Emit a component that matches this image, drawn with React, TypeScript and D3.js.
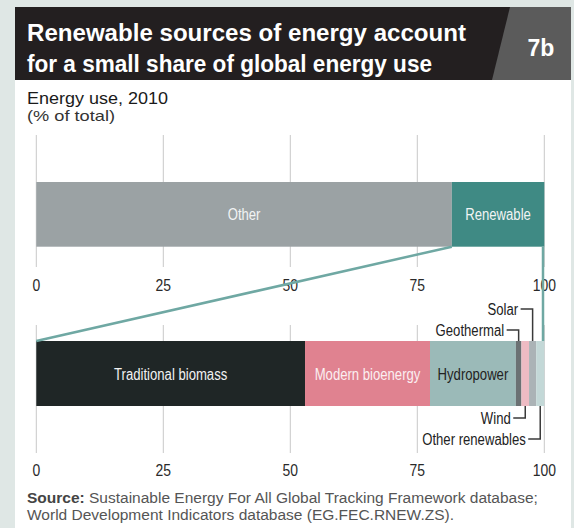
import * as React from 'react';
import { scaleLinear, cumsum } from 'd3';

// Energy use, 2010 (% of total)
const totalCategories = ['Other', 'Renewable'];
const totalValues = [81.8, 18.2];

// Breakdown of the renewable share (% of renewable)
const renewCategories = [
  'Traditional biomass',
  'Modern bioenergy',
  'Hydropower',
  'Geothermal',
  'Wind',
  'Solar',
  'Other renewables',
];
const renewValues = [52.9, 24.6, 16.9, 1.1, 1.5, 1.4, 1.6];

const tickValues = [0, 25, 50, 75, 100];

const totalColors = ['#9ba2a4', '#3f8a84'];
const renewColors = ['#1f2626', '#e08290', '#9bbab8', '#6b7173', '#eebbc3', '#abb3b6', '#c3d8d7'];
const renewTextColors = ['#f2f2f2', '#fbeff1', '#222222', '', '', '', ''];

const W = 574;
const H = 528;
const SANS = '"Liberation Sans", Arial, sans-serif';

// callouts for the thin slices: above or below the bar, and the row they sit on
const callouts: Record<string, { side: 'top' | 'bottom'; y: number }> = {
  Solar: { side: 'top', y: 309 },
  Geothermal: { side: 'top', y: 330 },
  Wind: { side: 'bottom', y: 418 },
  'Other renewables': { side: 'bottom', y: 439 },
};

function stack(values: number[]) {
  const ends = Array.from(cumsum(values));
  return values.map((v, i) => ({ x0: ends[i] - v, x1: ends[i] }));
}

// no narrow face is installed, so squeeze Liberation Sans horizontally
function Narrow({ x, y, anchor = 'start', size = 16, fill, children }: {
  x: number; y: number; anchor?: string; size?: number; fill: string; children: React.ReactNode;
}) {
  return (
    <text
      transform={`translate(${x},${y}) scale(0.82,1)`}
      textAnchor={anchor}
      fontFamily={SANS}
      fontSize={size}
      fill={fill}
    >
      {children}
    </text>
  );
}

export default function App() {
  const x = scaleLinear().domain([0, 100]).range([36.3, 544.3]);

  const top = { y0: 182, y1: 246.7, grid0: 135, grid1: 267, tickY: 291 };
  const bot = { y0: 341, y1: 406, grid0: 325, grid1: 453, tickY: 476 };

  const totalStack = stack(totalValues);
  const renewStack = stack(renewValues);
  const renewStart = totalStack[1].x0;

  const axis = (g: typeof top, key: string) => (
    <g key={key}>
      {tickValues.map(t => (
        <line key={'g' + t} x1={x(t)} x2={x(t)} y1={g.grid0} y2={g.grid1} stroke="#c9c9c9" strokeWidth={1} />
      ))}
      {tickValues.map(t => (
        <Narrow key={'t' + t} x={x(t)} y={g.tickY} anchor="middle" size={17} fill="#2a2a2a">
          {t}
        </Narrow>
      ))}
    </g>
  );

  return (
    <svg width={W} height={H} viewBox={`0 0 ${W} ${H}`} style={{ position: 'absolute', left: 0, top: 0, display: 'block' }}>
      <rect x={0} y={0} width={W} height={H} fill="#dfe7e5" />
      <rect x={15} y={7} width={556} height={H - 7} fill="#ffffff" />

      {/* title band */}
      <rect x={15} y={7} width={556} height={73} fill="#231f20" />
      <polygon points="510,7 571,7 571,80 492,80" fill="#5b5b5b" />
      <text x={27} y={41} fontFamily={SANS} fontWeight="bold" fontSize={23} fill="#ffffff" textLength={439} lengthAdjust="spacingAndGlyphs">
        Renewable sources of energy account
      </text>
      <text x={27} y={72} fontFamily={SANS} fontWeight="bold" fontSize={23} fill="#ffffff" textLength={405} lengthAdjust="spacingAndGlyphs">
        for a small share of global energy use
      </text>
      <text x={541} y={56} textAnchor="middle" fontFamily={SANS} fontWeight="bold" fontSize={23} fill="#ffffff">
        7b
      </text>

      <text x={27} y={104} fontFamily={SANS} fontSize={16.5} fill="#1a1a1a" textLength={141} lengthAdjust="spacingAndGlyphs">
        Energy use, 2010
      </text>
      <text x={27} y={121} fontFamily={SANS} fontSize={15} fill="#333333" textLength={88} lengthAdjust="spacingAndGlyphs">
        (% of total)
      </text>

      {axis(top, 'top')}
      {axis(bot, 'bot')}

      {/* top bar */}
      {totalStack.map((s, i) => (
        <g key={totalCategories[i]}>
          <rect x={x(s.x0)} y={top.y0} width={x(s.x1) - x(s.x0)} height={top.y1 - top.y0} fill={totalColors[i]} />
          <Narrow x={(x(s.x0) + x(s.x1)) / 2} y={(top.y0 + top.y1) / 2 + 6} anchor="middle" fill="#f2f4f4">
            {totalCategories[i]}
          </Narrow>
        </g>
      ))}

      {/* bottom bar */}
      {renewStack.map((s, i) => (
        <g key={renewCategories[i]}>
          <rect x={x(s.x0)} y={bot.y0} width={x(s.x1) - x(s.x0)} height={bot.y1 - bot.y0} fill={renewColors[i]} />
          {renewTextColors[i] && (
            <Narrow x={(x(s.x0) + x(s.x1)) / 2} y={(bot.y0 + bot.y1) / 2 + 6} anchor="middle" fill={renewTextColors[i]}>
              {renewCategories[i]}
            </Narrow>
          )}
        </g>
      ))}

      {/* connector from the renewable slice to its breakdown */}
      <line x1={x(0)} y1={bot.y0} x2={x(renewStart)} y2={top.y1} stroke="#6fa8a3" strokeWidth={2.5} />
      <line x1={x(100) - 1.3} y1={top.y1} x2={x(100) - 1.3} y2={bot.y0} stroke="#6fa8a3" strokeWidth={2.5} />

      {/* callouts */}
      {renewCategories.map((c, i) => {
        const co = callouts[c];
        if (!co) return null;
        const s = renewStack[i];
        const cx = (x(s.x0) + x(s.x1)) / 2;
        const edge = co.side === 'top' ? bot.y0 : bot.y1;
        return (
          <g key={'c' + c}>
            <path d={`M${cx - 12},${co.y}H${cx}V${edge}`} fill="none" stroke="#3a3a3a" strokeWidth={1.5} />
            <Narrow x={cx - 14.5} y={co.y + 6} anchor="end" fill="#222222">
              {c}
            </Narrow>
          </g>
        );
      })}

      <text x={27} y={503} fontFamily={SANS} fontSize={15.5} fill="#555555">
        <tspan fontWeight="bold" fill="#444444">Source:</tspan> Sustainable Energy For All Global Tracking Framework database;
      </text>
      <text x={27} y={520} fontFamily={SANS} fontSize={15.5} fill="#555555">
        World Development Indicators database (EG.FEC.RNEW.ZS).
      </text>
    </svg>
  );
}
